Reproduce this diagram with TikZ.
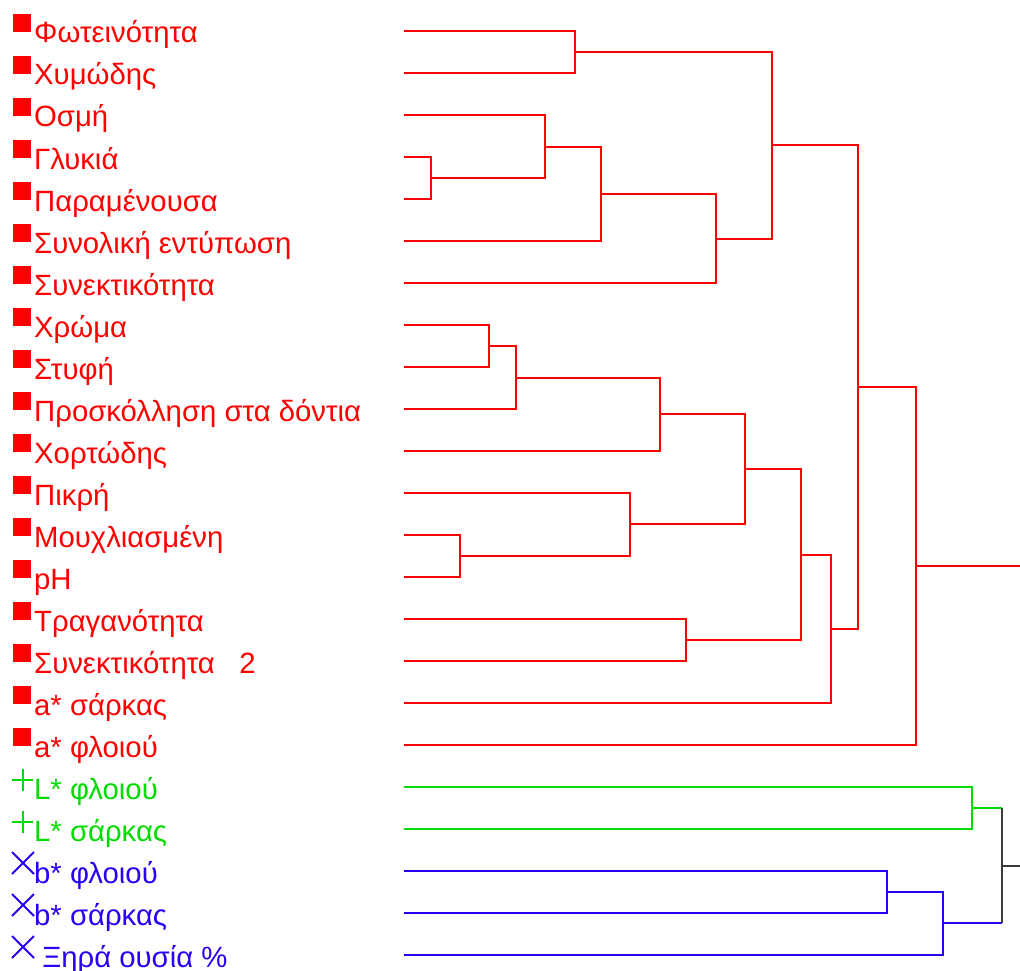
\documentclass[tikz,border=0pt]{standalone}
\usepackage{fontspec}
\setmainfont{Liberation Sans}

\definecolor{clred}{RGB}{255,0,0}
\definecolor{clgreen}{RGB}{0,220,0}
\definecolor{clblue}{RGB}{40,0,245}
\definecolor{clroot}{RGB}{60,60,60}

\tikzset{
  lbl/.style={anchor=base west, inner sep=0pt, font=\fontsize{29.3}{33}\selectfont},
  branch/.style={line width=1.2pt},
  symb/.style={line width=2pt}
}

\begin{document}
\begin{tikzpicture}[x=1pt,y=-1pt]
	\useasboundingbox (0,0) rectangle (1020,971);

	\foreach \i/\txt in {1/Φωτεινότητα, 2/Χυμώδης, 3/Οσμή, 4/Γλυκιά, 5/Παραμένουσα,
		6/Συνολική εντύπωση, 7/Συνεκτικότητα, 8/Χρώμα, 9/Στυφή, 10/Προσκόλληση στα δόντια,
		11/Χορτώδης, 12/Πικρή, 13/Μουχλιασμένη, 14/pH, 15/Τραγανότητα,
		16/Συνεκτικότητα\ \ \ 2, 17/a* σάρκας, 18/a* φλοιού}
	{
		\coordinate (leaf\i) at (404, {31+42*(\i-1)});
		\fill[clred] (13, {14+42*(\i-1)}) rectangle ++(18,18);
		\node[lbl, text=clred] (lab\i) at (34, {43+42*(\i-1)}) {\txt};
	}
	\foreach \i/\txt in {19/L* φλοιού, 20/L* σάρκας}
	{
		\coordinate (leaf\i) at (404, {31+42*(\i-1)});
		\draw[symb, clgreen] (12, {24+42*(\i-1)}) -- ++(21,0) (22.5, {13+42*(\i-1)}) -- ++(0,22);
		\node[lbl, text=clgreen] (lab\i) at (34, {43+42*(\i-1)}) {\txt};
	}
	\foreach \i/\txt in {21/b* φλοιού, 22/b* σάρκας, 23/\ Ξηρά ουσία \%}
	{
		\coordinate (leaf\i) at (404, {31+42*(\i-1)});
		\draw[symb, clblue] (12, {12+42*(\i-1)}) -- ++(22,22) (12, {34+42*(\i-1)}) -- ++(22,-22);
		\node[lbl, text=clblue] (lab\i) at (34, {43+42*(\i-1)}) {\txt};
	}

	% merge points
	\coordinate (m1) at (575,52);
	\coordinate (m2) at (431,178);
	\coordinate (m3) at (545,147);
	\coordinate (m4) at (601,194);
	\coordinate (m5) at (716,239);
	\coordinate (m6) at (772,145);
	\coordinate (m7) at (489,346);
	\coordinate (m8) at (516,378);
	\coordinate (m9) at (660,414);
	\coordinate (m10) at (460,556);
	\coordinate (m11) at (630,524);
	\coordinate (m12) at (745,469);
	\coordinate (m13) at (686,640);
	\coordinate (m14) at (801,555);
	\coordinate (m15) at (831,629);
	\coordinate (m16) at (858,387);
	\coordinate (m17) at (916,566);
	\coordinate (m18) at (972,808);
	\coordinate (m19) at (887,892);
	\coordinate (m20) at (943,923);
	\coordinate (m21) at (1002,866);
	\coordinate (top1) at (1020,566);
	\coordinate (top2) at (1020,866);

	\begin{scope}[branch, clred]
		\draw (leaf1) -| (m1) |- (leaf2);
		\draw (leaf4) -| (m2) |- (leaf5);
		\draw (leaf3) -| (m3) |- (m2);
		\draw (m3) -| (m4) |- (leaf6);
		\draw (m4) -| (m5) |- (leaf7);
		\draw (m1) -| (m6) |- (m5);
		\draw (leaf8) -| (m7) |- (leaf9);
		\draw (m7) -| (m8) |- (leaf10);
		\draw (m8) -| (m9) |- (leaf11);
		\draw (leaf13) -| (m10) |- (leaf14);
		\draw (leaf12) -| (m11) |- (m10);
		\draw (m9) -| (m12) |- (m11);
		\draw (leaf15) -| (m13) |- (leaf16);
		\draw (m12) -| (m14) |- (m13);
		\draw (m14) -| (m15) |- (leaf17);
		\draw (m6) -| (m16) |- (m15);
		\draw (m16) -| (m17) |- (leaf18);
		\draw (m17) -- (top1);
	\end{scope}

	\draw[branch, clgreen] (leaf19) -| (m18) |- (leaf20);
	\draw[branch, clgreen] (m18) -- (m18 -| m21);
	\draw[branch, clblue] (leaf21) -| (m19) |- (leaf22);
	\draw[branch, clblue] (m19) -| (m20) |- (leaf23);
	\draw[branch, clblue] (m20) -- (m20 -| m21);
	\draw[branch, clroot] (m18 -| m21) -- (m20 -| m21);
	\draw[branch, clroot] (m21) -- (top2);
\end{tikzpicture}
\end{document}
